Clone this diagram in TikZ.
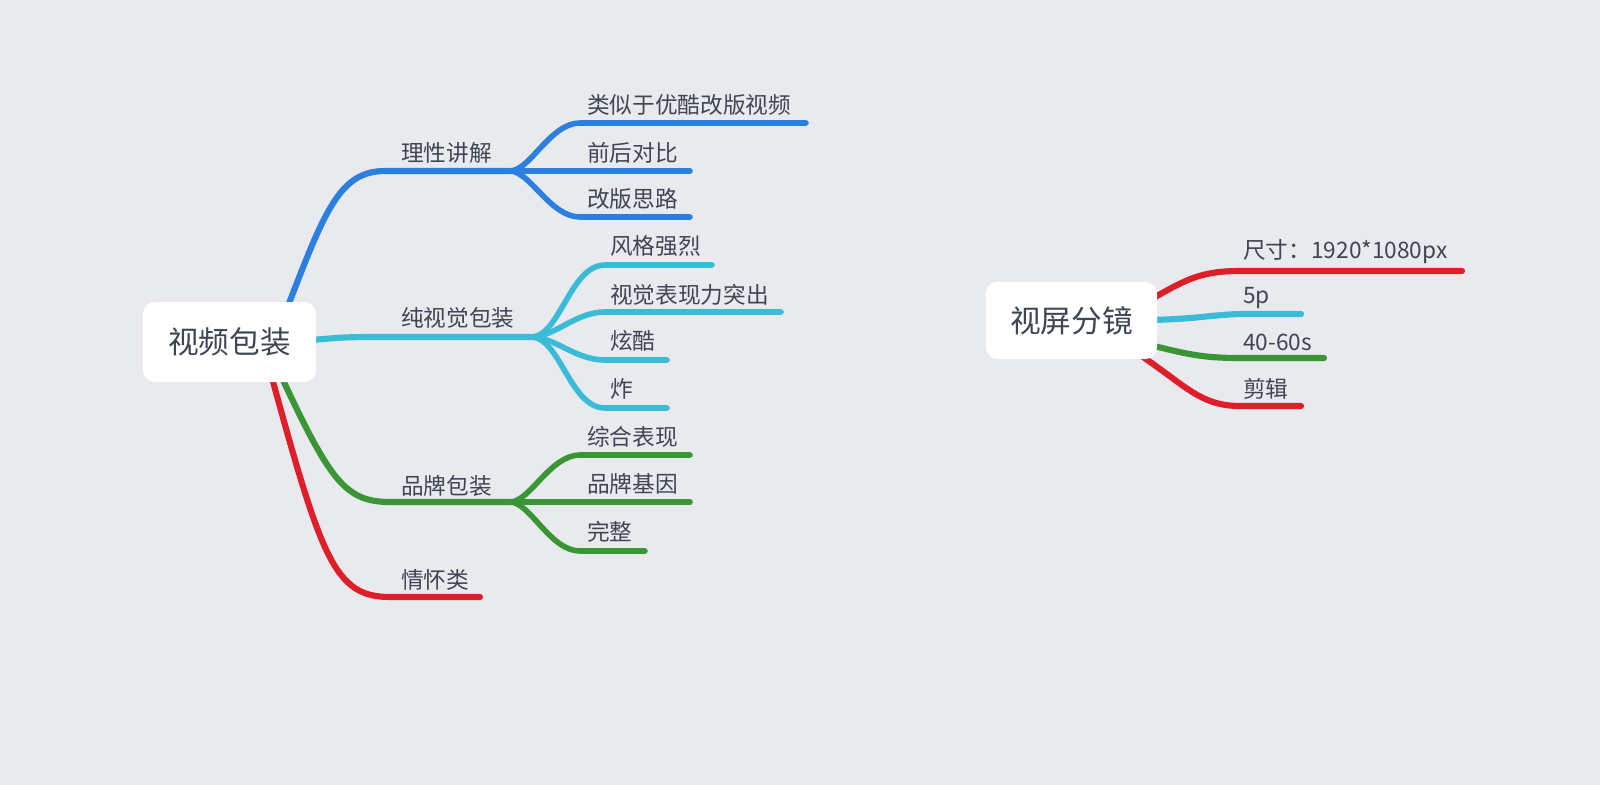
\documentclass[tikz,border=0pt]{standalone}
\usepackage{fontspec}
\newfontfamily\cjk{Noto Sans CJK SC}
\usetikzlibrary{backgrounds}
\definecolor{bgc}{HTML}{E9EAEE}
\definecolor{txt}{HTML}{3E4654}
\definecolor{cblue}{HTML}{2C7FE0}
\definecolor{ccyan}{HTML}{3ABCD8}
\definecolor{cgreen}{HTML}{3A9634}
\definecolor{cred}{HTML}{DE1F2A}
\tikzset{
  rootbox/.style={fill=white, rounded corners=9pt, text=txt, font=\cjk\fontsize{23}{27}\selectfont, inner sep=0pt},
  lbl/.style={anchor=west, text=txt, font=\cjk\fontsize{17}{21}\selectfont, inner sep=0pt},
  br/.style={line width=4.6pt, line cap=round, line join=round},
  sub/.style={line width=4.2pt, line cap=round, line join=round},
}
\begin{document}
\begin{tikzpicture}[x=0.75pt,y=-0.75pt]
\useasboundingbox (0,0) rectangle (1600,785);
% roots
\node[rootbox, minimum width=129.75pt, minimum height=60pt] (r1) at (229.5,342) {视频包装};
\node[rootbox, minimum width=128.5pt, minimum height=58pt] (r2) at (1071.4,320.4) {视屏分镜};
% level 1 labels (left tree)
\node[lbl] (a) at (401,153) {理性讲解};
\node[lbl] (b) at (401,318) {纯视觉包装};
\node[lbl] (c) at (401,486) {品牌包装};
\node[lbl] (d) at (401,580) {情怀类};
% children
\node[lbl] (a1) at (587,105) {类似于优酷改版视频};
\node[lbl] (a2) at (587,153) {前后对比};
\node[lbl] (a3) at (587,199) {改版思路};
\node[lbl] (b1) at (610,246) {风格强烈};
\node[lbl] (b2) at (610,295) {视觉表现力突出};
\node[lbl] (b3) at (610,341) {炫酷};
\node[lbl] (b4) at (610,389) {炸};
\node[lbl] (c1) at (587,437) {综合表现};
\node[lbl] (c2) at (587,484) {品牌基因};
\node[lbl] (c3) at (587,532) {完整};
% right tree labels
\node[lbl] (e1) at (1243,252) {尺寸：1920*1080px};
\node[lbl] (e2) at (1243,298) {5p};
\node[lbl] (e3) at (1243,342) {40-60s};
\node[lbl] (e4) at (1243,389) {剪辑};
% coordinates
\coordinate (ja) at (510,171);
\coordinate (jb) at (531,337);
\coordinate (jc) at (510,502);
\coordinate (dend) at (480,597);
\coordinate (a1e) at (806,123);
\coordinate (a2e) at (690,171);
\coordinate (a3e) at (690,217);
\coordinate (b1e) at (712,265);
\coordinate (b2e) at (781,312);
\coordinate (b3e) at (667,360);
\coordinate (b4e) at (667,408);
\coordinate (c1e) at (690,455);
\coordinate (c2e) at (690,502);
\coordinate (c3e) at (645,551);
\coordinate (e1e) at (1462,271);
\coordinate (e2e) at (1301,314);
\coordinate (e3e) at (1324,358);
\coordinate (e4e) at (1301,406);
\begin{scope}[on background layer]
\fill[bgc] (0,0) rectangle (1600,785);
% left tree level 1
\draw[br,cblue] (288,306) .. controls (325,210) and (340,171) .. (385,171) -- (ja);
\draw[br,ccyan] (312,340) .. controls (345,337) and (350,337) .. (385,337) -- (jb);
\draw[br,cgreen] (282,378) .. controls (330,480) and (345,502) .. (390,502) -- (jc);
\draw[br,cred] (272,378) .. controls (322,560) and (335,597) .. (390,597) -- (dend);
% blue children
\draw[sub,cblue] (ja) .. controls (530,171) and (550,123) .. (580,123) -- (a1e);
\draw[sub,cblue] (ja) -- (a2e);
\draw[sub,cblue] (ja) .. controls (530,171) and (550,217) .. (580,217) -- (a3e);
% cyan children
\draw[sub,ccyan] (jb) .. controls (560,337) and (570,265) .. (605,265) -- (b1e);
\draw[sub,ccyan] (jb) .. controls (555,337) and (575,312) .. (605,312) -- (b2e);
\draw[sub,ccyan] (jb) .. controls (555,337) and (575,360) .. (605,360) -- (b3e);
\draw[sub,ccyan] (jb) .. controls (560,337) and (570,408) .. (605,408) -- (b4e);
% green children
\draw[sub,cgreen] (jc) .. controls (530,502) and (550,455) .. (580,455) -- (c1e);
\draw[sub,cgreen] (jc) -- (c2e);
\draw[sub,cgreen] (jc) .. controls (530,502) and (550,551) .. (580,551) -- (c3e);
% right tree
\draw[br,cred] (1150,300) .. controls (1185,280) and (1200,271) .. (1240,271) -- (e1e);
\draw[br,ccyan] (1150,320) .. controls (1200,319) and (1215,314) .. (1245,314) -- (e2e);
\draw[br,cgreen] (1150,345) .. controls (1190,355) and (1205,358) .. (1240,358) -- (e3e);
\draw[br,cred] (1140,355) .. controls (1185,385) and (1200,406) .. (1240,406) -- (e4e);
\end{scope}
\end{tikzpicture}
\end{document}
